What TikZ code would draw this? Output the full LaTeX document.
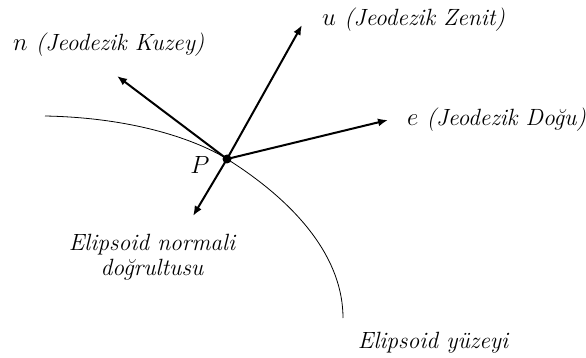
\documentclass[tikz,border=0pt]{standalone}
\usetikzlibrary{arrows.meta}
\begin{document}
\begin{tikzpicture}[x=1pt,y=-1pt,
  vec/.style={line width=2pt,-{Latex[length=10pt,width=8pt]}},
  surf/.style={line width=0.8pt},
  lbl/.style={font=\itshape\fontsize{23.5}{25}\selectfont,inner sep=0pt}]
\useasboundingbox (0,0) rectangle (586,358);
\coordinate (P) at (227,159);
\coordinate (S0) at (45,116);
\coordinate (S1) at (343,318);
\coordinate (U) at (302,25);
\coordinate (N) at (117,76);
\coordinate (E) at (388,120);
\coordinate (D) at (193,216);
\draw[surf] (S0) .. controls (150,118) and (210,148) .. (P)
  .. controls (300,205) and (343,260) .. (S1);
\draw[vec] (P) -- (U);
\draw[vec] (P) -- (N);
\draw[vec] (P) -- (E);
\draw[vec] (P) -- (D);
\fill (P) circle (4.5pt);
\node[lbl,anchor=west] (lu) at (322,20) {$u$ (Jeodezik Zenit)};
\node[lbl,anchor=west] (ln) at (13,45) {$n$ (Jeodezik Kuzey)};
\node[lbl,anchor=west] (le) at (407,120) {$e$ (Jeodezik Doğu)};
\node[lbl] (lp) at (200,165) {$P$};
\node[lbl,align=center] (ld) at (152,257) {Elipsoid normali\\doğrultusu};
\node[lbl] (ls) at (433,343) {Elipsoid yüzeyi};
\end{tikzpicture}
\end{document}
